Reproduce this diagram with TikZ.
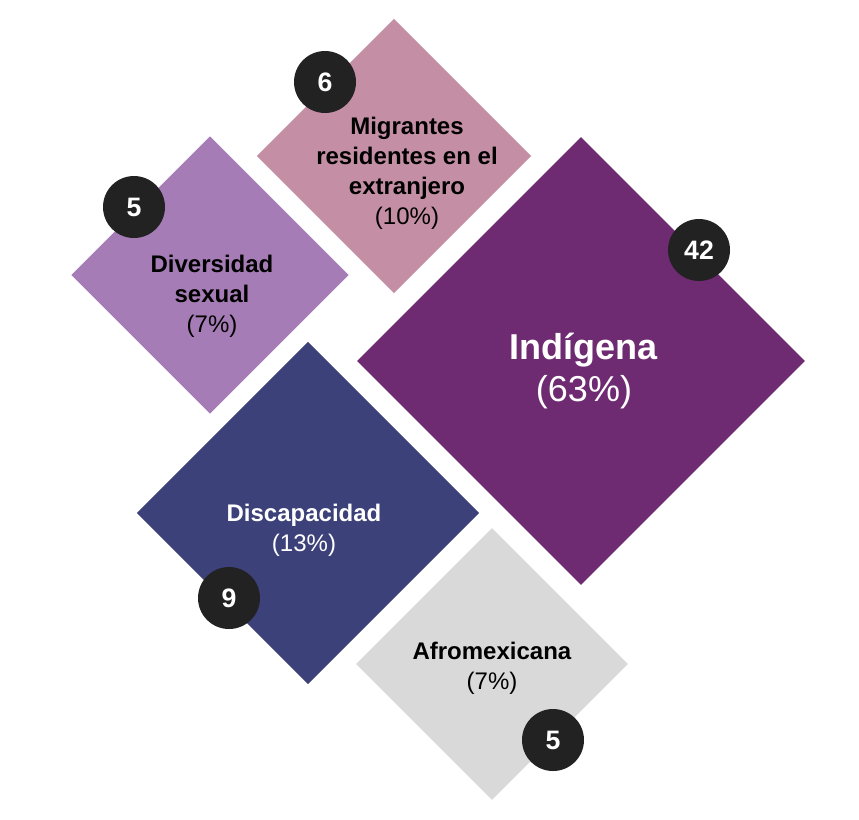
\documentclass[tikz,border=0pt]{standalone}
\usepackage{fontspec}
\setmainfont{Liberation Sans}
\usetikzlibrary{shapes.geometric}
\definecolor{cmig}{HTML}{C48FA5}
\definecolor{cdiv}{HTML}{A57CB5}
\definecolor{cind}{HTML}{6E2B72}
\definecolor{cdis}{HTML}{3C417A}
\definecolor{cafr}{HTML}{D9D9D9}
\definecolor{cdot}{HTML}{222222}
\begin{document}
\begin{tikzpicture}[x=0.75pt,y=-0.75pt,
  dia/.style={diamond,aspect=1,inner sep=0pt,draw=none},
  lab/.style={align=center,font=\fontsize{18pt}{22.5pt}\selectfont,text=black},
  dot/.style={circle,fill=cdot,minimum size=46.5pt,inner sep=0pt,text=white,font=\fontsize{20pt}{24pt}\selectfont\bfseries}]
\useasboundingbox (0,0) rectangle (859,819);
\node[dia,fill=cmig,minimum size=206pt] (mig) at (394,156) {};
\node[dia,fill=cdiv,minimum size=208pt] (div) at (210,275) {};
\node[dia,fill=cind,minimum size=336pt] (ind) at (581,361) {};
\node[dia,fill=cdis,minimum size=257pt] (dis) at (308,513) {};
\node[dia,fill=cafr,minimum size=204pt] (afr) at (492,664) {};
\node[lab] (tmig) at (407,173) {\textbf{Migrantes}\\\textbf{residentes en el}\\\textbf{extranjero}\\(10\%)};
\node[lab] (tdiv) at (212,296) {\textbf{Diversidad}\\\textbf{sexual}\\(7\%)};
\node[lab,text=white,font=\fontsize{27pt}{32pt}\selectfont] (tind) at (584,371) {\textbf{Indígena}\\(63\%)};
\node[lab,text=white] (tdis) at (304,530) {\textbf{Discapacidad}\\(13\%)};
\node[lab] (tafr) at (492,668) {\textbf{Afromexicana}\\(7\%)};
\node[dot] (d1) at (325,82) {6};
\node[dot] (d2) at (134,207) {5};
\node[dot] (d3) at (699,250) {42};
\node[dot] (d4) at (229,598) {9};
\node[dot] (d5) at (553,740) {5};
\end{tikzpicture}
\end{document}
